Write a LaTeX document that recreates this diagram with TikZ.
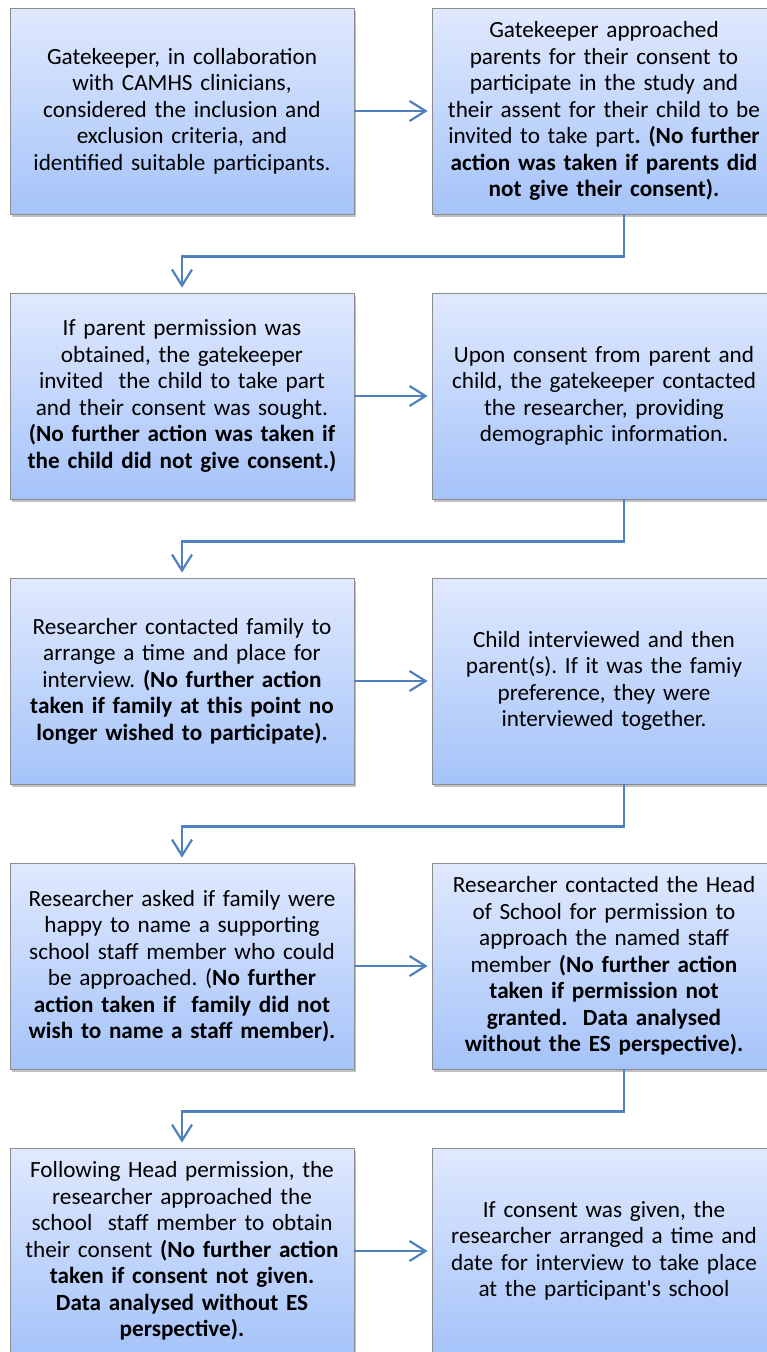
\documentclass[tikz,border=0pt]{standalone}
\usepackage{fontspec}
\setmainfont{Carlito}[Ligatures=TeXOff]
\usetikzlibrary{arrows.meta,shadows,calc}
\definecolor{boxtop}{HTML}{E0E9FE}
\definecolor{boxbot}{HTML}{A5C3F9}
\definecolor{boxline}{HTML}{8C8C8C}
\definecolor{connblue}{HTML}{4F81BD}
\frenchspacing
\tikzset{
  flowbox/.style={draw=boxline, line width=0.8pt, top color=boxtop, bottom color=boxbot,
    minimum width=344pt, minimum height=206pt, text width=344pt, inner sep=0pt,
    align=center, font=\fontsize{23.2pt}{26.5pt}\selectfont,
    drop shadow={shadow xshift=2pt, shadow yshift=-3pt, opacity=0.35, fill=black!70}},
  conn/.style={draw=connblue, line width=2.2pt, -{Straight Barb[length=16pt,width=20pt]}}
}
\begin{document}
\begin{tikzpicture}
\useasboundingbox (0,0) rectangle (766pt,-1352pt);
% row 1
\node[flowbox] (l1) at (182pt,-111pt) {Gatekeeper, in collaboration\\ with CAMHS clinicians,\\ considered the inclusion and\\ exclusion criteria, and\\ identified suitable participants.};
\node[flowbox] (r1) at (604pt,-111pt) {Gatekeeper approached\\ parents for their consent to\\ participate in the study and\\ their assent for their child to be\\ invited to take part\textbf{. (No further}\\ \textbf{action was taken if parents did}\\ \textbf{not give their consent).}};
% row 2
\node[flowbox] (l2) at (182pt,-396pt) {If parent permission was\\ obtained, the gatekeeper\\ invited\ \ the child to take part\\ and their consent was sought.\\ \textbf{(No further action was taken if}\\ \textbf{the child did not give consent.)}};
\node[flowbox] (r2) at (604pt,-396pt) {Upon consent from parent and\\ child, the gatekeeper contacted\\ the researcher, providing\\ demographic information.};
% row 3
\node[flowbox] (l3) at (182pt,-681pt) {Researcher contacted family to\\ arrange a time and place for\\ interview. \textbf{(No further action}\\ \textbf{taken if family at this point no}\\ \textbf{longer wished to participate).}};
\node[flowbox] (r3) at (604pt,-681pt) {Child interviewed and then\\ parent(s). If it was the famiy\\ preference, they were\\ interviewed together.};
% row 4
\node[flowbox] (l4) at (182pt,-966pt) {Researcher asked if family were\\ happy to name a supporting\\ school staff member who could\\ be approached. (\textbf{No further}\\ \textbf{action taken if\ \ family did not}\\ \textbf{wish to name a staff member).}};
\node[flowbox] (r4) at (604pt,-966pt) {Researcher contacted the Head\\ of School for permission to\\ approach the named staff\\ member \textbf{(No further action}\\ \textbf{taken if permission not}\\ \textbf{granted.\ \ Data analysed}\\ \textbf{without the ES perspective).}};
% row 5
\node[flowbox] (l5) at (182pt,-1251pt) {Following Head permission, the\\ researcher approached the\\ school\ \ staff member to obtain\\ their consent \textbf{(No further action}\\ \textbf{taken if consent not given.}\\ \textbf{Data analysed without ES}\\ \textbf{perspective).}};
\node[flowbox] (r5) at (604pt,-1251pt) {If consent was given, the\\ researcher arranged a time and\\ date for interview to take place\\ at the participant's school};
% horizontal connectors
\draw[conn] (l1.east) -- ([xshift=-4pt]r1.west);
\draw[conn] (l2.east) -- ([xshift=-4pt]r2.west);
\draw[conn] (l3.east) -- ([xshift=-4pt]r3.west);
\draw[conn] (l4.east) -- ([xshift=-4pt]r4.west);
\draw[conn] (l5.east) -- ([xshift=-4pt]r5.west);
% elbow connectors
\draw[conn] ([xshift=20pt]r1.south) -- ++(0,-42pt) -| ([yshift=5pt]l2.north);
\draw[conn] ([xshift=20pt]r2.south) -- ++(0,-42pt) -| ([yshift=5pt]l3.north);
\draw[conn] ([xshift=20pt]r3.south) -- ++(0,-42pt) -| ([yshift=5pt]l4.north);
\draw[conn] ([xshift=20pt]r4.south) -- ++(0,-42pt) -| ([yshift=5pt]l5.north);
\end{tikzpicture}
\end{document}
